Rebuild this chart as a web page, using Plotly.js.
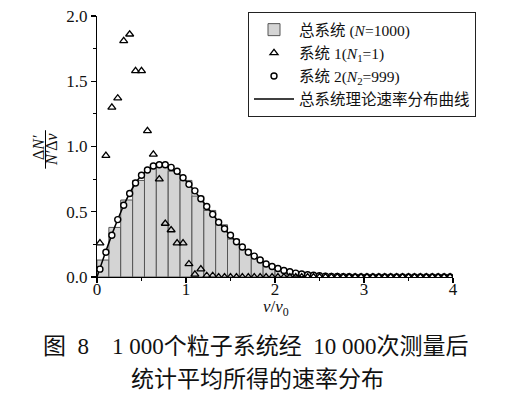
<!DOCTYPE html>
<html>
<head>
<meta charset="utf-8">
<script src="https://cdn.plot.ly/plotly-3.0.1.min.js"></script>
<style>html,body{margin:0;padding:0;background:#fff;}</style>
</head>
<body>
<div id="chart" style="width:530px;height:399px;"></div>
<script>
// Histogram of total system (bin centres, heights)
const barX = [0.067,0.2,0.333,0.467,0.6,0.733,0.867,1.0,1.133,1.267,1.4,1.533,1.667,1.8,1.933,
              2.067,2.2,2.333,2.467,2.6,2.733,2.867,3.0,3.133,3.267,3.4,3.533,3.667,3.8,3.933];
const barY = [0.13,0.38,0.59,0.74,0.83,0.85,0.81,0.74,0.62,0.51,0.40,0.29,0.21,0.14,0.094,
              0.058,0.035,0.02,0.011,0.006,0.003,0.001,0,0,0,0,0,0,0,0];

// Sample points (system 1 and system 2)
const ptX = [0.033,0.1,0.167,0.233,0.3,0.367,0.433,0.5,0.567,0.633,0.7,0.767,0.833,0.9,0.967,
             1.033,1.1,1.167,1.233,1.3,1.367,1.433,1.5,1.567,1.633,1.7,1.767,1.833,1.9,1.967,
             2.033,2.1,2.167,2.233,2.3,2.367,2.433,2.5,2.567,2.633,2.7,2.767,2.833,2.9,2.967,
             3.033,3.1,3.167,3.233,3.3,3.367,3.433,3.5,3.567,3.633,3.7,3.767,3.833,3.9,3.967];
const sys1Y = [0.26,0.93,1.30,1.37,1.81,1.86,1.58,1.58,1.12,0.94,0.75,0.41,0.36,0.26,0.26,
               0.10,0.02,0.06,0.01,0.01,0,0,0,0,0,0,0,0,0,0,
               0,0,0,0,0,0,0,0,0,0,0,0,0,0,0,
               0,0,0,0,0,0,0,0,0,0,0,0,0,0,0];
const sys2Y = [0.06,0.19,0.32,0.44,0.55,0.64,0.72,0.78,0.82,0.85,0.86,0.86,0.84,0.81,0.76,
               0.71,0.66,0.60,0.54,0.48,0.42,0.37,0.32,0.27,0.23,0.19,0.16,0.13,0.10,0.08,
               0.065,0.05,0.04,0.03,0.023,0.017,0.013,0.01,0.007,0.005,0.004,0.003,0.002,0.001,0,
               0,0,0,0,0,0,0,0,0,0,0,0,0,0,0];

// Theoretical curve readings
const curveX = [0,0.1,0.2,0.3,0.4,0.5,0.6,0.7,0.8,0.9,1.0,1.1,1.2,1.3,1.4,1.5,1.6,1.7,1.8,1.9,2.0,
                2.1,2.2,2.3,2.4,2.5,2.6,2.7,2.8,2.9,3.0,3.2,3.4,3.6,3.8,4.0];
const curveY = [0,0.198,0.384,0.548,0.682,0.779,0.837,0.858,0.843,0.801,0.736,0.656,0.569,0.480,0.395,
                0.316,0.247,0.189,0.141,0.103,0.073,0.051,0.035,0.023,0.015,0.010,0.006,0.004,0.002,0.001,
                0.001,0,0,0,0,0];

const legendNames = [
  '总系统 (<i>N</i>=1000)',
  '系统 1(<i>N</i><sub>1</sub>=1)',
  '系统 2(<i>N</i><sub>2</sub>=999)',
  '总系统理论速率分布曲线'
];
const xTitle = '<i>v</i>/<i>v</i><sub>0</sub>';
const yTitleNum = 'Δ<i>N′</i>';
const yTitleDen = '<i>N′</i>Δ<i>v</i>';
const caption1 = '图\u00a0\u00a08\u00a0\u00a0\u00a0\u00a01\u00a0000个粒子系统经\u00a0\u00a010\u00a0000次测量后';
const caption2 = '统计平均所得的速率分布';

const FONT = 'Liberation Serif, Noto Sans CJK SC, serif';

const traces = [
  {type:'bar', x:barX, y:barY, width:0.1333, name:legendNames[0], legendrank:1,
   marker:{color:'#d4d4d4', line:{color:'#555', width:1}}},
  {type:'scatter', mode:'lines', x:curveX, y:curveY, name:legendNames[3], legendrank:4,
   line:{color:'#000', width:1.5, shape:'spline'}},
  {type:'scatter', mode:'markers', x:ptX, y:sys2Y, name:legendNames[2], legendrank:3,
   marker:{symbol:'circle', size:6, color:'#fff', line:{color:'#000', width:1.4}}},
  {type:'scatter', mode:'markers', x:ptX, y:sys1Y, name:legendNames[1], legendrank:2,
   marker:{symbol:'triangle-up-open', size:7, color:'#000', line:{width:1.3}}}
];

const axisCommon = {
  showline:true, linecolor:'#000', linewidth:1.2, ticks:'outside', ticklen:5, tickwidth:1.2,
  tickcolor:'#000', showgrid:false, zeroline:false,
  tickfont:{family:FONT, size:17, color:'#111'}
};

function px2x(p){ return (p-97)/356; }
function px2y(p){ return (277-p)/265; }

const layout = {
  width:530, height:399,
  margin:{l:97, r:77, t:12, b:122},
  paper_bgcolor:'#fff', plot_bgcolor:'#fff',
  bargap:0,
  showlegend:true,
  legend:{x:px2x(248), y:px2y(8), xanchor:'left', yanchor:'top', bgcolor:'#fff',
          bordercolor:'#222', borderwidth:1, font:{family:FONT, size:15.5, color:'#111'},
          tracegroupgap:0, itemwidth:40},
  xaxis:Object.assign({}, axisCommon, {
    range:[0,4], tickvals:[0,1,2,3,4], ticklabelstandoff:-9,
    minor:{dtick:0.5, ticks:'outside', ticklen:3, tickcolor:'#000', showgrid:false}
  }),
  yaxis:Object.assign({}, axisCommon, {
    range:[0,2], tickvals:[0,0.5,1.0,1.5,2.0], tickformat:'.1f',
    minor:{dtick:0.25, ticks:'outside', ticklen:3, tickcolor:'#000', showgrid:false}
  }),
  annotations:[
    {xref:'paper', yref:'paper', x:px2x(276), y:px2y(308), text:xTitle, showarrow:false,
     xanchor:'center', yanchor:'middle', font:{family:FONT, size:17, color:'#111'}},
    {xref:'paper', yref:'paper', x:px2x(39), y:px2y(146), text:yTitleNum, showarrow:false,
     xanchor:'center', yanchor:'middle', textangle:-90, font:{family:FONT, size:16, color:'#111'}},
    {xref:'paper', yref:'paper', x:px2x(52), y:px2y(148), text:yTitleDen, showarrow:false,
     xanchor:'center', yanchor:'middle', textangle:-90, font:{family:FONT, size:16, color:'#111'}},
    {xref:'paper', yref:'paper', x:px2x(256), y:px2y(348), text:caption1, showarrow:false,
     xanchor:'center', yanchor:'middle', font:{family:FONT, size:23, color:'#111'}},
    {xref:'paper', yref:'paper', x:px2x(257), y:px2y(381), text:caption2, showarrow:false,
     xanchor:'center', yanchor:'middle', font:{family:FONT, size:23, color:'#111'}}
  ],
  shapes:[
    {type:'line', xref:'paper', yref:'paper', x0:px2x(45.5), x1:px2x(45.5),
     y0:px2y(128), y1:px2y(167), line:{color:'#000', width:1}}
  ]
};

Plotly.newPlot('chart', traces, layout, {displayModeBar:false, staticPlot:true});
</script>
</body>
</html>
